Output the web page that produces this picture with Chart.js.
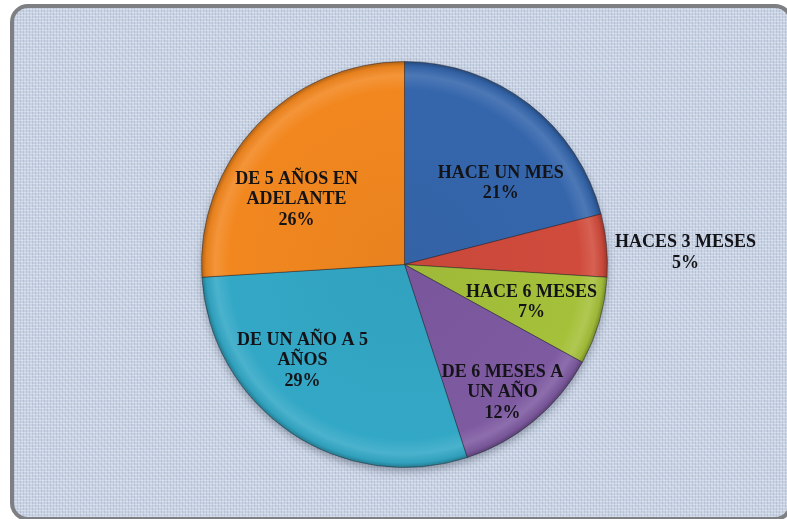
<!DOCTYPE html>
<html>
<head>
<meta charset="utf-8">
<script src="https://cdn.jsdelivr.net/npm/chart.js@4/dist/chart.umd.min.js"></script>
<style>
  html, body { margin: 0; padding: 0; width: 787px; height: 519px; overflow: hidden; background: #ffffff; }
  #clip { position: absolute; left: 0; top: 0; width: 787px; height: 519px; overflow: hidden; }
  #frame {
    position: absolute; left: 10px; top: 4px; width: 783px; height: 517px;
    box-sizing: border-box; border: 4px solid #7d7f82; border-radius: 18px;
    background-color: #c6d1e3;
    background-image:
      repeating-linear-gradient(0deg, rgba(255,255,255,0.28) 0px, rgba(255,255,255,0.28) 1px, rgba(0,0,0,0) 1px, rgba(0,0,0,0) 3px),
      repeating-linear-gradient(90deg, rgba(80,95,130,0.15) 0px, rgba(80,95,130,0.15) 1px, rgba(0,0,0,0) 1px, rgba(0,0,0,0) 3px),
      repeating-linear-gradient(45deg, rgba(255,255,255,0.10) 0px, rgba(255,255,255,0.10) 2px, rgba(0,0,0,0) 2px, rgba(0,0,0,0) 5px);
  }
  #wrap { position: absolute; left: 0; top: 0; width: 787px; height: 519px; }
</style>
</head>
<body>
<div id="clip">
<div id="frame"></div>
<div id="wrap"><canvas id="c" width="787" height="519"></canvas></div>
</div>
<script>
// ---- data ----
const categories = ['HACE UN MES', 'HACES 3 MESES', 'HACE 6 MESES', 'DE 6 MESES A UN AÑO', 'DE UN AÑO A 5 AÑOS', 'DE 5 AÑOS EN ADELANTE'];
const labelLines = [['HACE UN MES'], ['HACES 3 MESES'], ['HACE 6 MESES'], ['DE 6 MESES A', 'UN AÑO'], ['DE UN AÑO A 5', 'AÑOS'], ['DE 5 AÑOS EN', 'ADELANTE']];
const values = [21, 5, 7, 12, 29, 26];

// ---- styles ----
const sliceColors = ['#3566ac', '#d04b3c', '#a5c13a', '#7e5aa1', '#33a8c6', '#f2871f'];
// label placement: angle offset (deg) from slice mid-angle and radius factor
const labelAngleOffset = [12.1, 3.0, 0.3, 2.2, 12.5, -12.2];
const labelRadiusFactor = [0.62, 1.385, 0.653, 0.795, 0.69, 0.62];

function shade(hex, f) {
  const n = parseInt(hex.slice(1), 16);
  let r = (n >> 16) & 255, g = (n >> 8) & 255, b = n & 255;
  if (f >= 0) { r += (255 - r) * f; g += (255 - g) * f; b += (255 - b) * f; }
  else { r *= (1 + f); g *= (1 + f); b *= (1 + f); }
  return 'rgb(' + Math.round(r) + ',' + Math.round(g) + ',' + Math.round(b) + ')';
}

function bevelFill(ctx) {
  const chart = ctx.chart;
  const base = sliceColors[ctx.dataIndex];
  const area = chart.chartArea;
  if (!area) return base;
  const cx = (area.left + area.right) / 2, cy = (area.top + area.bottom) / 2;
  const R = Math.min(area.right - area.left, area.bottom - area.top) / 2;
  const g = chart.ctx.createRadialGradient(cx, cy, 0, cx, cy, R);
  g.addColorStop(0, shade(base, -0.04));
  g.addColorStop(0.86, base);
  g.addColorStop(0.93, shade(base, 0.12));
  g.addColorStop(0.975, shade(base, -0.05));
  g.addColorStop(1, shade(base, -0.3));
  return g;
}

const shadowPlugin = {
  id: 'pieShadow',
  beforeDatasetsDraw(chart) {
    const arc = chart.getDatasetMeta(0).data[0];
    if (!arc) return;
    const ctx = chart.ctx;
    ctx.save();
    ctx.shadowColor = 'rgba(40,50,70,0.45)';
    ctx.shadowBlur = 9;
    ctx.shadowOffsetX = 0;
    ctx.shadowOffsetY = 4;
    ctx.beginPath();
    ctx.arc(arc.x, arc.y, arc.outerRadius - 1, 0, Math.PI * 2);
    ctx.fillStyle = '#556';
    ctx.fill();
    ctx.restore();
  }
};

const labelPlugin = {
  id: 'sliceLabels',
  afterDatasetsDraw(chart) {
    const ctx = chart.ctx;
    const meta = chart.getDatasetMeta(0);
    const total = values.reduce((a, b) => a + b, 0);
    ctx.save();
    ctx.font = 'bold 18px "Liberation Serif", "Times New Roman", serif';
    ctx.fillStyle = '#141418';
    ctx.textAlign = 'center';
    ctx.textBaseline = 'middle';
    const lh = 20.5;
    meta.data.forEach((arc, i) => {
      const mid = (arc.startAngle + arc.endAngle) / 2 + labelAngleOffset[i] * Math.PI / 180;
      const r = arc.outerRadius * labelRadiusFactor[i];
      const x = arc.x + Math.cos(mid) * r;
      const y = arc.y + Math.sin(mid) * r;
      const lines = labelLines[i].concat([Math.round(values[i] / total * 100) + '%']);
      const y0 = y - (lines.length - 1) * lh / 2;
      lines.forEach((t, k) => ctx.fillText(t, x, y0 + k * lh));
    });
    ctx.restore();
  }
};

new Chart(document.getElementById('c'), {
  type: 'pie',
  data: {
    labels: categories,
    datasets: [{
      data: values,
      backgroundColor: bevelFill,
      borderColor: 'rgba(30,30,40,0.45)',
      borderWidth: 1
    }]
  },
  options: {
    responsive: false,
    animation: false,
    layout: { padding: { left: 201, right: 179, top: 61, bottom: 51 } },
    plugins: { legend: { display: false }, tooltip: { enabled: false } }
  },
  plugins: [shadowPlugin, labelPlugin]
});
</script>
</body>
</html>
